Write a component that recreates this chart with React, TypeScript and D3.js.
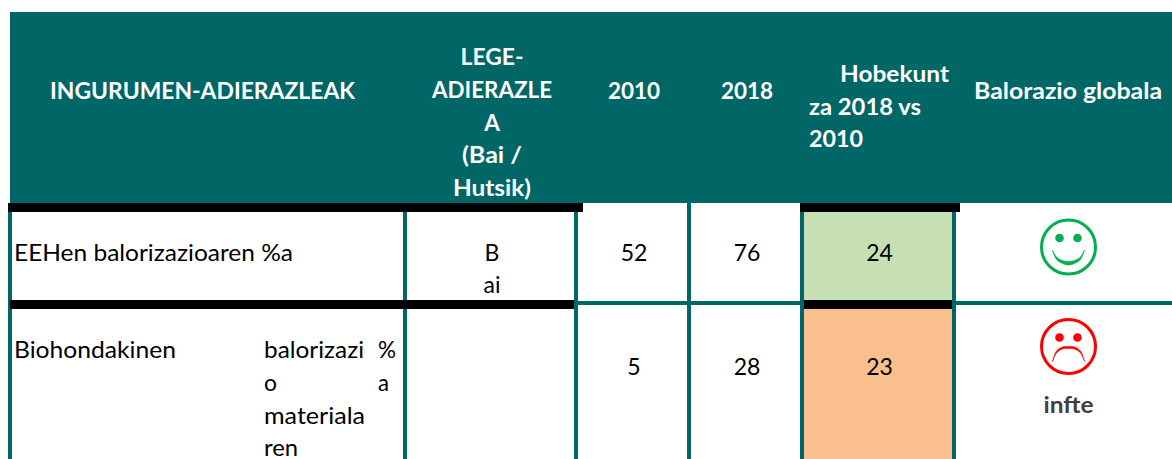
import * as d3 from "d3";

const columns = ["name", "legal", "y2010", "y2018", "diff", "global"];
const rows = ["first", "second"];

const headerMain = "INGURUMEN-ADIERAZLEAK";
const headerLegal = ["LEGE-", "ADIERAZLE", "A", "(Bai /", "Hutsik)"];
const headerYears = ["2010", "2018"];
const headerDiff = ["Hobekunt", "za 2018 vs", "2010"];
const headerGlobal = "Balorazio globala";

const firstName = "EEHen balorizazioaren %a";
const firstLegal = ["B", "ai"];
const secondFirstWord = "Biohondakinen";
const secondName = ["balorizazi", "o", "materiala", "ren"];
const secondPercent = ["%", "a"];
const secondNote = "infte";

const values2010 = [52, 5];
const values2018 = [76, 28];
const improvement = [24, 23];

const width = 1172;
const height = 459;
const TEAL = "#006666";
const font = "Lato, 'Open Sans', sans-serif";
const bodySize = 23;
const boldSize = 22.5;
const lineH = 32.8;

// fitted text widths, the reference font is narrower than Lato in places
const legalWidths = [63, 120, undefined, 60, 78];
const secondNameWidths = [100, 13, 101, 34];
const secondPercentWidths = [18, 11];

// column rules
const x = d3.scaleOrdinal<string, number>().domain([...columns, "end"]).range([12, 405, 576, 689, 802, 954, 1172]);
const center = (c: string) => {
  const i = columns.indexOf(c);
  return (x(c) + x(i < columns.length - 1 ? columns[i + 1] : "end")) / 2 + 1.5;
};
// row tops (below the header) and the bottom of the page
const y = d3.scaleOrdinal<string, number>().domain([...rows, "end"]).range([212, 304, 459]);

const Txt = ({ tx, ty, w, bold, anchor, fill, children }: any) => (
  <text
    x={tx}
    y={ty}
    textAnchor={anchor || "start"}
    fontFamily={font}
    fontWeight={bold ? 700 : 400}
    fontSize={bold ? boldSize : bodySize}
    fill={fill || "#000"}
    textLength={w}
    lengthAdjust={w ? "spacingAndGlyphs" : undefined}
  >
    {children}
  </text>
);

const eyeArc = d3.arc();
const crescent = d3
  .area<[number, number, number]>()
  .x((d) => d[0])
  .y0((d) => d[1])
  .y1((d) => d[2])
  .curve(d3.curveCatmullRom);

// mouth outlines, relative to the face centre: x, inner edge, outer edge
const smilePoints: [number, number, number][] = [
  [-16, 3, 3],
  [-12, 10, 12.5],
  [-6, 13.5, 16.5],
  [0, 14.5, 18],
  [6, 13.5, 16.5],
  [12, 10, 12.5],
  [16, 3, 3],
];
const frownPoints: [number, number, number][] = [
  [-16, 15, 15],
  [-12, 6.5, 4.5],
  [-6, 2.5, 0.5],
  [0, 2, 0],
  [6, 2.5, 0.5],
  [12, 6.5, 4.5],
  [16, 15, 15],
];

const Face = ({ cx, cy, color, happy }: { cx: number; cy: number; color: string; happy: boolean }) => {
  const eye = eyeArc({ innerRadius: 0, outerRadius: 4.3, startAngle: 0, endAngle: 2 * Math.PI }) as string;
  return (
    <g transform={`translate(${cx},${cy})`}>
      <ellipse rx={27} ry={27} fill="none" stroke={color} strokeWidth={3} />
      <path d={eye} transform="translate(-9,-9)" fill={color} />
      <path d={eye} transform="translate(9,-9)" fill={color} />
      <path d={crescent(happy ? smilePoints : frownPoints) as string} fill={color} stroke={color} strokeWidth={0.6} />
    </g>
  );
};

export default function App() {
  return (
    <svg
      width={width}
      height={height}
      viewBox={`0 0 ${width} ${height}`}
      style={{ position: "absolute", left: 0, top: 0, background: "#fff" }}
    >
      {/* header band */}
      <rect x={10} y={12} width={1162} height={191} fill={TEAL} />

      {/* shaded cells */}
      <rect x={x("diff")} y={y("first")} width={x("global") - x("diff")} height={88} fill="#C6E0B4" />
      <rect x={x("diff")} y={y("second")} width={x("global") - x("diff")} height={y("end") - y("second")} fill="#F9C08E" />

      {/* vertical rules */}
      {[x("name") - 2, x("legal"), x("y2010"), x("y2018"), x("diff"), x("global")].map((v, i) => (
        <line key={i} x1={v} x2={v} y1={i === 3 ? 203 : 212} y2={height} stroke={TEAL} strokeWidth={4} />
      ))}

      {/* row rules */}
      <line x1={x("y2010")} x2={x("diff")} y1={303} y2={303} stroke={TEAL} strokeWidth={4} />
      <line x1={x("global")} x2={width} y1={303} y2={303} stroke={TEAL} strokeWidth={4} />
      <rect x={8} y={203} width={575} height={9} fill="#000" />
      <rect x={800} y={203} width={160} height={9} fill="#000" />
      <rect x={10} y={300} width={564} height={9} fill="#000" />
      <rect x={804} y={300} width={148} height={9} fill="#000" />

      {/* header text */}
      <Txt tx={50} ty={99} w={305} bold fill="#fff">{headerMain}</Txt>
      {headerLegal.map((s, i) => (
        <Txt key={s} tx={center("legal")} ty={65 + i * lineH} w={legalWidths[i]} bold anchor="middle" fill="#fff">{s}</Txt>
      ))}
      <Txt tx={center("y2010")} ty={99} bold anchor="middle" fill="#fff">{headerYears[0]}</Txt>
      <Txt tx={center("y2018")} ty={99} bold anchor="middle" fill="#fff">{headerYears[1]}</Txt>
      <Txt tx={840} ty={82} w={109} bold fill="#fff">{headerDiff[0]}</Txt>
      <Txt tx={809} ty={115} w={112} bold fill="#fff">{headerDiff[1]}</Txt>
      <Txt tx={809} ty={147} w={54} bold fill="#fff">{headerDiff[2]}</Txt>
      <Txt tx={974} ty={99} w={188} bold fill="#fff">{headerGlobal}</Txt>

      {/* first row */}
      <Txt tx={14} ty={260.5} w={279}>{firstName}</Txt>
      {firstLegal.map((s, i) => (
        <Txt key={s} tx={center("legal")} ty={260.5 + i * lineH} anchor="middle">{s}</Txt>
      ))}

      {/* second row */}
      <Txt tx={14} ty={358} w={162}>{secondFirstWord}</Txt>
      {secondName.map((s, i) => (
        <Txt key={s} tx={264} ty={358 + i * lineH} w={secondNameWidths[i]}>{s}</Txt>
      ))}
      {secondPercent.map((s, i) => (
        <Txt key={s} tx={378} ty={358 + i * lineH} w={secondPercentWidths[i]}>{s}</Txt>
      ))}

      {/* values */}
      {rows.map((r, i) => {
        const ty = i === 0 ? 260.5 : 375;
        return (
          <g key={r}>
            <Txt tx={center("y2010")} ty={ty} anchor="middle">{values2010[i]}</Txt>
            <Txt tx={center("y2018")} ty={ty} anchor="middle">{values2018[i]}</Txt>
            <Txt tx={center("diff")} ty={ty} anchor="middle">{improvement[i]}</Txt>
          </g>
        );
      })}

      {/* global rating */}
      <Face cx={1068.5} cy={247} color="#00B050" happy />
      <Face cx={1068.5} cy={346.5} color="#FF0000" happy={false} />
      <Txt tx={1068.5} ty={413} bold anchor="middle" fill="#404040" w={50}>{secondNote}</Txt>
    </svg>
  );
}
